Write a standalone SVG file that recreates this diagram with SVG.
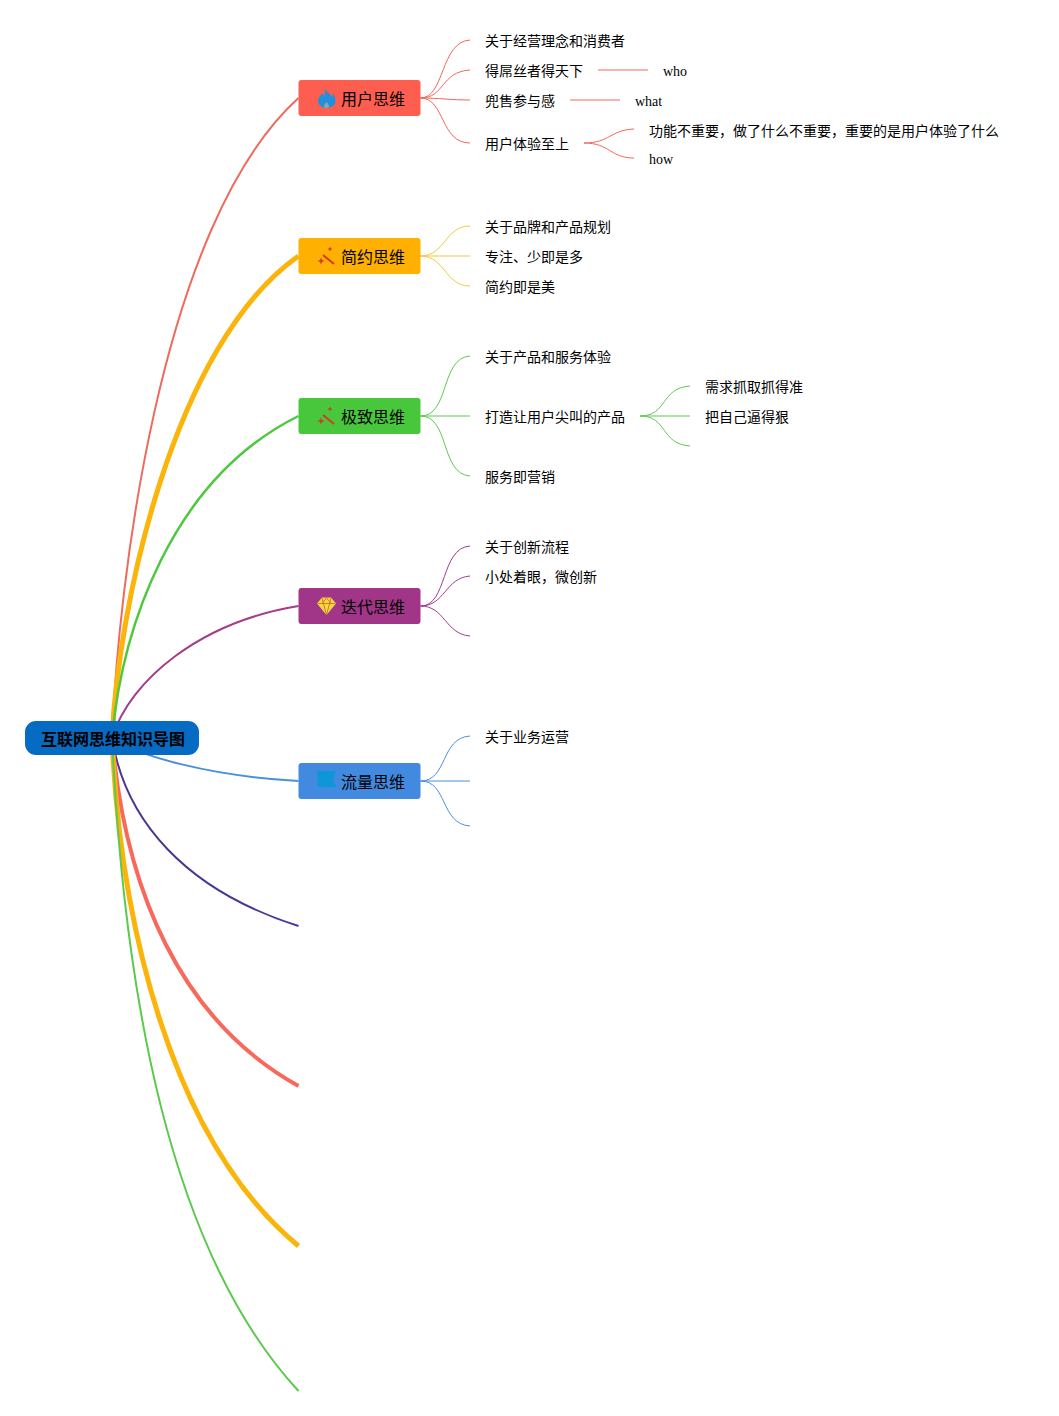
<svg xmlns="http://www.w3.org/2000/svg" width="1059" height="1416" viewBox="0 0 1059 1416">
<style>
text{font-family:"Liberation Serif","Noto Sans CJK SC",serif;font-size:14px;fill:#000}
.n{font-size:16px}
.r{font-size:16px;font-weight:bold}
.b{rx:3px;ry:3px}
#connectors path{fill:none}
.red{stroke:#f0685c}
.yel{stroke:#f7c63e}
.grn{stroke:#5fc950}
.pur{stroke:#a23d8c}
.blu{stroke:#4a8edc}
.t{stroke-width:1}
</style>
<defs>
<g id="wand"><path d="M323 255L334 264" fill="none" stroke="#d8372e" stroke-width="2"/><path d="M321 257.500L322 260L324.500 261L322 262L321 264.500L320 262L317.500 261L320 260Z M330 246.500L330.800 248.200L332.500 249L330.800 249.800L330 251.500L329.200 249.800L327.500 249L329.200 248.200Z" fill="#d8372e"/></g>
</defs>
<g id="connectors">
<path d="M112 738C118 590 158 225 298.500 98" stroke="#ee6a5e" stroke-width="2"/>
<path d="M112 738C118 610 172 345 298.500 256" stroke="#fbb40a" stroke-width="5"/>
<path d="M112 738C122 630 170 480 298.500 416" stroke="#4fc83f" stroke-width="2.500"/>
<path d="M112 738C130 680 200 622 298.500 606" stroke="#a23d8c" stroke-width="2"/>
<path d="M112 738C138 756 210 776 298.500 781" stroke="#4a8edc" stroke-width="2"/>
<path d="M112 738C125 820 185 890 298.500 926" stroke="#4b3596" stroke-width="2"/>
<path d="M112 738C125 890 180 1020 298.500 1086" stroke="#f8695c" stroke-width="4"/>
<path d="M112 738C120 920 170 1140 298.500 1246" stroke="#fbb40a" stroke-width="5"/>
<path d="M112 738C124 990 168 1250 298.500 1391" stroke="#5cc94e" stroke-width="2"/>
<g class="red t">
<path d="M420.500 98C445 98 440 42 470 40"/><path d="M420.500 98C445 98 440 72 470 70"/><path d="M420.500 98C440 98 450 100 470 100"/><path d="M420.500 98C445 98 440 143 470 143"/>
<path d="M598 70H648"/><path d="M570 100H620"/>
<path d="M584 143C610 143 610 130 634 129"/><path d="M584 143C610 143 610 158 634 158"/>
</g>
<g class="yel t"><path d="M420.500 256C445 256 445 226 470 226"/><path d="M420.500 256H470"/><path d="M420.500 256C445 256 445 286 470 286"/></g>
<g class="grn t"><path d="M420.500 416C450 416 440 358 470 356"/><path d="M420.500 416H470"/><path d="M420.500 416C450 416 440 474 470 476"/>
<path d="M640 416C668 416 660 388 690 386"/><path d="M640 416H690"/><path d="M640 416C668 416 660 444 690 446"/></g>
<g class="pur t"><path d="M420.500 606C448 606 440 548 470 546"/><path d="M420.500 606C445 606 445 578 470 576"/><path d="M420.500 606C445 606 445 634 470 636"/></g>
<g class="blu t"><path d="M420.500 781C448 781 440 738 470 736"/><path d="M420.500 781H470"/><path d="M420.500 781C448 781 440 824 470 826"/></g>
</g>
<g id="root"><rect x="25" y="721" width="174" height="34" rx="11" fill="#066bc2"/><text class="r" x="41" y="745">互联网思维知识导图</text></g>
<g id="n1"><rect class="b" x="298.500" y="80" width="122" height="36" fill="#fd5e50"/>
<path d="M325 88C326 92 330 93 332 97C333 95 333 94 333 93C335 96 335.500 99 335.500 101C335.500 105 331 108 326.500 108C322 108 318 105 318 101C318 97 321 96 322 93C323 94 323.500 95 324 96C325 94 325.500 91 325 88Z" fill="#2290dc"/>
<path d="M326.500 102C328 104 329 105 329 106C329 107.500 328 108 326.500 108C325 108 324 107.500 324 106C324 105 325 104 326.500 102Z" fill="#8aa6b4"/>
<text class="n" x="341" y="105">用户思维</text></g>
<g id="n2"><rect class="b" x="298.500" y="238" width="122" height="36" fill="#ffb000"/>
<use href="#wand"/>
<text class="n" x="341" y="263">简约思维</text></g>
<g id="n3"><rect class="b" x="298.500" y="398" width="122" height="36" fill="#48c73c"/>
<use href="#wand" y="160"/>
<text class="n" x="341" y="423">极致思维</text></g>
<g id="n4"><rect class="b" x="298.500" y="588" width="122" height="36" fill="#a13688"/>
<path d="M322 597.500H331L336 603.500L326.500 615L317 603.500Z" fill="#ffd23f"/>
<path d="M318 603.500H335M322 598L326.500 615M331 598L326.500 615M322 603.500L326.500 598L331 603.500" fill="none" stroke="#a8762a" stroke-width=".8"/>
<text class="n" x="341" y="613">迭代思维</text></g>
<g id="n5"><rect class="b" x="298.500" y="763" width="122" height="36" fill="#428adf"/>
<path d="M317 771H336L333 779L336 787H318Z" fill="#0f96d8"/>
<text class="n" x="341" y="788">流量思维</text></g>
<g id="leaves">
<text x="485" y="46">关于经营理念和消费者</text>
<text x="485" y="76">得屌丝者得天下</text>
<text x="663" y="76">who</text>
<text x="485" y="106">兜售参与感</text>
<text x="635" y="106">what</text>
<text x="485" y="149">用户体验至上</text>
<text x="649" y="136">功能不重要，做了什么不重要，重要的是用户体验了什么</text>
<text x="649" y="164">how</text>
<text x="485" y="232">关于品牌和产品规划</text>
<text x="485" y="262">专注、少即是多</text>
<text x="485" y="292">简约即是美</text>
<text x="485" y="362">关于产品和服务体验</text>
<text x="485" y="422">打造让用户尖叫的产品</text>
<text x="485" y="482">服务即营销</text>
<text x="705" y="392">需求抓取抓得准</text>
<text x="705" y="422">把自己逼得狠</text>
<text x="485" y="552">关于创新流程</text>
<text x="485" y="582">小处着眼，微创新</text>
<text x="485" y="742">关于业务运营</text>
</g>
</svg>
